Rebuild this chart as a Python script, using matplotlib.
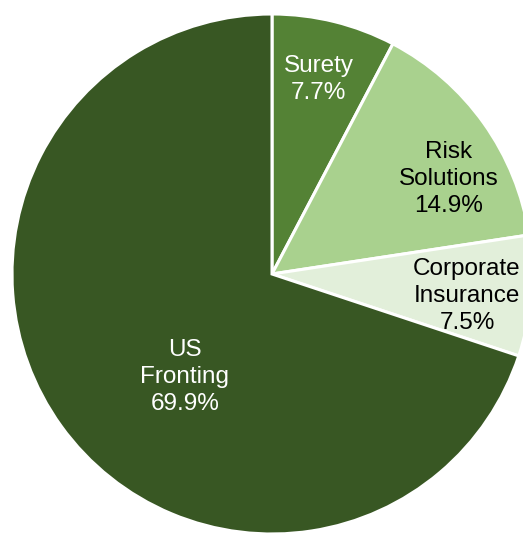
import matplotlib.pyplot as plt
import numpy as np

# segment names and shares (%)
names = ["Surety", "Risk\nSolutions", "Corporate\nInsurance", "US\nFronting"]
shares = [7.7, 14.9, 7.5, 69.9]
colors = ["#548235", "#A9D18E", "#E2EFDA", "#385723"]
text_colors = ["white", "black", "black", "white"]

# label anchor (radius, angle in degrees) relative to pie centre
label_r = [0.77, 0.77, 0.755, 0.52]
label_ang = [76.5, 28.2, -6.5, -130.2]

plt.rcParams["font.family"] = ["Liberation Sans", "DejaVu Sans"]

fig = plt.figure(figsize=(5.23, 5.36), dpi=100)
ax = fig.add_axes([0, 0, 1, 1])

wedges, _ = ax.pie(shares, colors=colors, startangle=90, counterclock=False,
                   radius=1.0, wedgeprops=dict(edgecolor="white", linewidth=2.2))

for name, share, r, a, tc in zip(names, shares, label_r, label_ang, text_colors):
    x = r * np.cos(np.radians(a))
    y = r * np.sin(np.radians(a))
    ax.text(x, y, f"{name}\n{share:.1f}%", ha="center", va="center",
            fontsize=17.5, color=tc, linespacing=1.3)

ax.set_xlim(-272 / 260, 251 / 260)
ax.set_ylim(-262 / 260, 274 / 260)
ax.set_aspect("equal")
ax.axis("off")

fig.savefig("out.png", dpi=100)
